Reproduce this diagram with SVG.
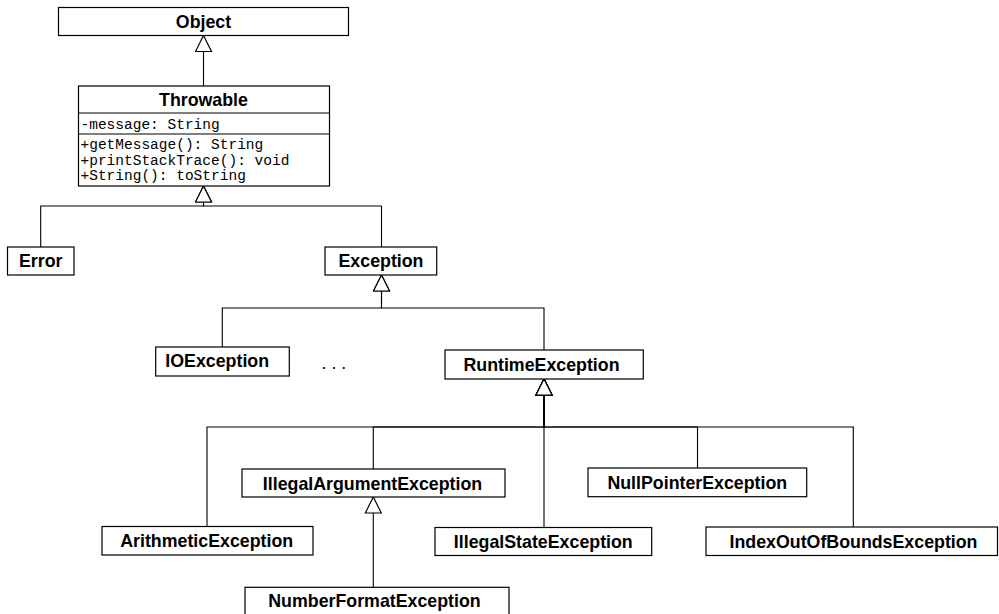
<svg xmlns="http://www.w3.org/2000/svg" width="999" height="614" viewBox="0 0 999 614">
<style>
.box{fill:#fff;stroke:#000;stroke-width:1.2}
.lbl{font-family:"Liberation Sans",Arial,Helvetica,sans-serif;font-weight:bold;font-size:17.8px;fill:#000;text-anchor:middle}
.mono{font-family:"Liberation Mono","Courier New",monospace;font-size:14.5px;fill:#000}
.dots{font-family:"Liberation Sans",Arial,sans-serif;font-size:17.8px;fill:#000}
.conn{fill:none;stroke:#000;stroke-width:1.1;marker-end:url(#gen)}
</style>
<defs>
<marker id="gen" viewBox="-1 -1 18 18" refX="16" refY="8" markerWidth="18" markerHeight="18" markerUnits="userSpaceOnUse" orient="auto">
<path d="M0,0 L16,8 L0,16 Z" fill="#fff" stroke="#000" stroke-width="1.2"/>
</marker>
</defs>
<rect width="999" height="614" fill="#fff"/>
<g id="connectors">
<path class="conn" d="M203.5,86 V35.5"/>
<path class="conn" d="M40.7,247 V206 H203.5 V186"/>
<path class="conn" d="M381.5,247 V206 H203.5 V186"/>
<path class="conn" d="M222.3,347 V308 H381.5 V275"/>
<path class="conn" d="M544,350 V308 H381.5 V275"/>
<path class="conn" d="M207,526 V427 H544 V379"/>
<path class="conn" d="M373.3,469 V427 H544 V379"/>
<path class="conn" d="M544,528 V379"/>
<path class="conn" d="M697.5,468 V427 H544 V379"/>
<path class="conn" d="M853.3,527 V427 H544 V379"/>
<path class="conn" d="M373.3,587 V497"/>
</g>
<g id="Object">
<rect class="box" x="58.5" y="7.5" width="290" height="28"/>
<text class="lbl" x="203.5" y="27.5">Object</text>
</g>
<g id="Throwable">
<rect class="box" x="78.5" y="86" width="251" height="100"/>
<line x1="78.5" y1="113" x2="329.5" y2="113" stroke="#000" stroke-width="1.2"/>
<line x1="78.5" y1="134" x2="329.5" y2="134" stroke="#000" stroke-width="1.2"/>
<text class="lbl" x="203.5" y="106">Throwable</text>
<text class="mono" x="80.5" y="128.5">-message: String</text>
<text class="mono" x="80.5" y="148.5">+getMessage(): String</text>
<text class="mono" x="80.5" y="164.5">+printStackTrace(): void</text>
<text class="mono" x="80.5" y="180.3">+String(): toString</text>
</g>
<g id="Error">
<rect class="box" x="7.5" y="247" width="66.5" height="28"/>
<text class="lbl" x="40.7" y="267.3">Error</text>
</g>
<g id="Exception">
<rect class="box" x="325" y="247" width="111.7" height="28"/>
<text class="lbl" x="381" y="267.3">Exception</text>
</g>
<g id="IOException">
<rect class="box" x="155.7" y="347" width="133.6" height="29"/>
<text class="lbl" x="217.2" y="366.8">IOException</text>
</g>
<g id="ellipsis">
<text class="dots" x="321.5" y="369.3">. . .</text>
</g>
<g id="RuntimeException">
<rect class="box" x="445" y="350" width="198.3" height="29"/>
<text class="lbl" x="541.5" y="371">RuntimeException</text>
</g>
<g id="ArithmeticException">
<rect class="box" x="102" y="526.5" width="211" height="28.5"/>
<text class="lbl" x="206.7" y="546.8">ArithmeticException</text>
</g>
<g id="IllegalArgumentException">
<rect class="box" x="242" y="469" width="263" height="28"/>
<text class="lbl" x="372.5" y="489.5">IllegalArgumentException</text>
</g>
<g id="IllegalStateException">
<rect class="box" x="435" y="527.5" width="216.7" height="28"/>
<text class="lbl" x="543.3" y="548">IllegalStateException</text>
</g>
<g id="NullPointerException">
<rect class="box" x="588" y="468" width="218.7" height="28.7"/>
<text class="lbl" x="697.3" y="489">NullPointerException</text>
</g>
<g id="IndexOutOfBoundsException">
<rect class="box" x="706" y="527" width="291.5" height="28.5"/>
<text class="lbl" x="853.5" y="547.5">IndexOutOfBoundsException</text>
</g>
<g id="NumberFormatException">
<rect class="box" x="245" y="587.3" width="264" height="29"/>
<text class="lbl" x="374.5" y="607.3">NumberFormatException</text>
</g>
</svg>
